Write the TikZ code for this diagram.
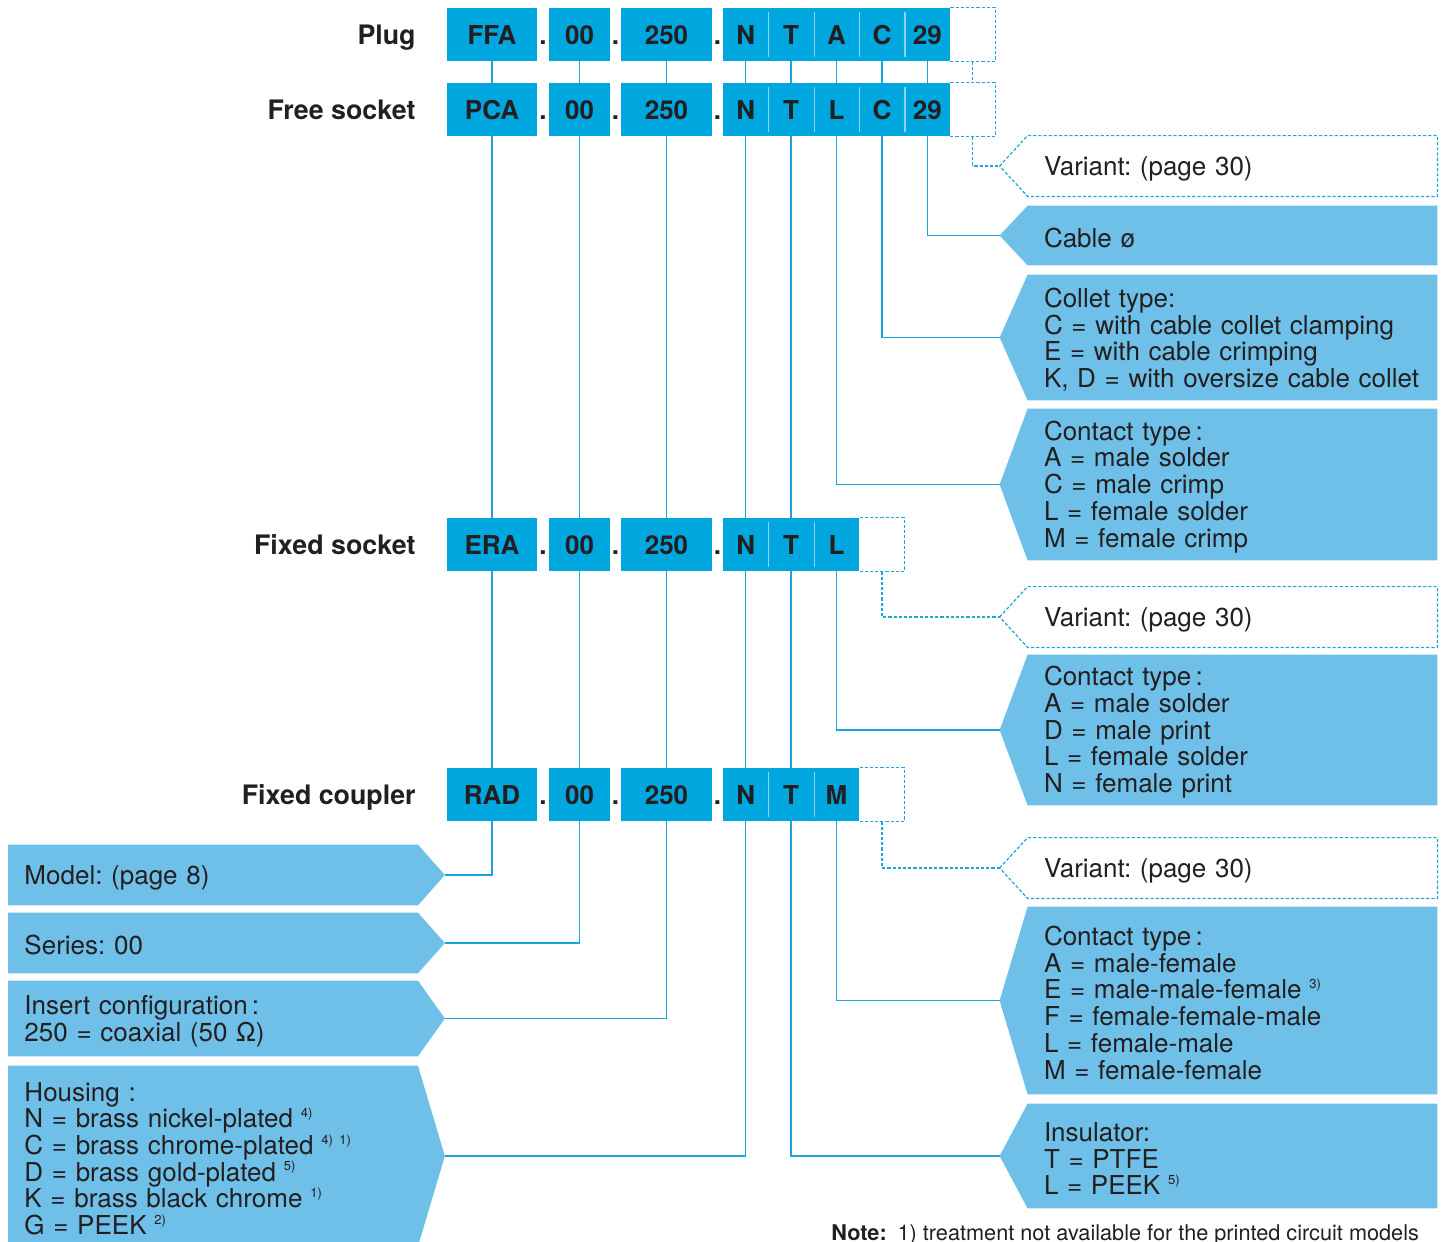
\documentclass[tikz,border=0pt]{standalone}
\usepackage{fontspec}
\setmainfont{TeX Gyre Heros}
\usetikzlibrary{positioning,backgrounds}

\definecolor{codeblue}{RGB}{0,166,222}
\definecolor{softblue}{RGB}{110,192,232}
\definecolor{linkblue}{RGB}{28,164,222}
\definecolor{splitblue}{RGB}{140,212,242}
\definecolor{ink}{RGB}{35,31,32}

\newcommand{\notemark}[1]{\hspace{0.3em}\raisebox{0.75ex}{\fontsize{6.5}{7}\selectfont #1}}

\tikzset{
  code/.style={fill=codeblue, text=ink, font=\fontsize{13}{13}\selectfont\bfseries,
    inner sep=0pt, minimum height=26.5pt, text height=10.4pt, text depth=0pt},
  cell/.style={code, minimum width=22.7pt},
  blank/.style={inner sep=0pt, minimum height=26.5pt, minimum width=22pt},
  dot/.style={text=ink, font=\fontsize{13}{13}\selectfont\bfseries,
    inner sep=0pt, text height=10.4pt, text depth=0pt},
  rowlabel/.style={anchor=east, text=ink, font=\fontsize{13.4}{14}\selectfont\bfseries,
    inner sep=0pt, text height=10.4pt, text depth=0pt},
  infobox/.style={text=ink, font=\fontsize{13}{13.35}\selectfont, align=left,
    text width=188.5pt, inner xsep=8pt, inner ysep=0pt,
    execute at begin node={\rule{0pt}{12pt}}},
  link/.style={draw=linkblue, line width=0.7pt},
  dashlink/.style={draw=linkblue, line width=0.6pt, dash pattern=on 1.6pt off 1pt},
  divider/.style={draw=splitblue, line width=0.6pt}
}

\begin{document}
\frenchspacing
\begin{tikzpicture}[x=0.5pt,y=-0.5pt,node distance=22.7pt,on grid]
\useasboundingbox (0,0) rectangle (1446,1242);

% row labels
\node[rowlabel] (plug_lbl) at (416,34.5) {Plug};
\node[rowlabel] (free_lbl) at (416,109.5) {Free socket};
\node[rowlabel] (sock_lbl) at (416,544.5) {Fixed socket};
\node[rowlabel] (coup_lbl) at (416,794.5) {Fixed coupler};

% plug
\node[code, minimum width=45pt] (plug_model) at (492,34.5) {FFA};
\node[dot] (plug_d1) at (543,34.5) {.};
\node[code, minimum width=30.5pt] (plug_series) at (579.5,34.5) {00};
\node[dot] (plug_d2) at (615.5,34.5) {.};
\node[code, minimum width=45.5pt] (plug_insert) at (666.5,34.5) {250};
\node[dot] (plug_d3) at (717.5,34.5) {.};
\node[cell] (plug_N) at (745.7,34.5) {N};
\node[cell] (plug_T) [right=of plug_N] {T};
\node[cell] (plug_A) [right=of plug_T] {A};
\node[cell] (plug_C) [right=of plug_A] {C};
\node[cell] (plug_29) [right=of plug_C] {29};
\node[blank] (plug_var) [right=of plug_29] {};

% free socket
\node[code, minimum width=45pt] (free_model) at (492,109.5) {PCA};
\node[dot] (free_d1) at (543,109.5) {.};
\node[code, minimum width=30.5pt] (free_series) at (579.5,109.5) {00};
\node[dot] (free_d2) at (615.5,109.5) {.};
\node[code, minimum width=45.5pt] (free_insert) at (666.5,109.5) {250};
\node[dot] (free_d3) at (717.5,109.5) {.};
\node[cell] (free_N) at (745.7,109.5) {N};
\node[cell] (free_T) [right=of free_N] {T};
\node[cell] (free_L) [right=of free_T] {L};
\node[cell] (free_C) [right=of free_L] {C};
\node[cell] (free_29) [right=of free_C] {29};
\node[blank] (free_var) [right=of free_29] {};

% fixed socket
\node[code, minimum width=45pt] (sock_model) at (492,544.5) {ERA};
\node[dot] (sock_d1) at (543,544.5) {.};
\node[code, minimum width=30.5pt] (sock_series) at (579.5,544.5) {00};
\node[dot] (sock_d2) at (615.5,544.5) {.};
\node[code, minimum width=45.5pt] (sock_insert) at (666.5,544.5) {250};
\node[dot] (sock_d3) at (717.5,544.5) {.};
\node[cell] (sock_N) at (745.7,544.5) {N};
\node[cell] (sock_T) [right=of sock_N] {T};
\node[cell] (sock_L) [right=of sock_T] {L};
\node[blank] (sock_var) [right=of sock_L] {};

% fixed coupler
\node[code, minimum width=45pt] (coup_model) at (492,794.5) {RAD};
\node[dot] (coup_d1) at (543,794.5) {.};
\node[code, minimum width=30.5pt] (coup_series) at (579.5,794.5) {00};
\node[dot] (coup_d2) at (615.5,794.5) {.};
\node[code, minimum width=45.5pt] (coup_insert) at (666.5,794.5) {250};
\node[dot] (coup_d3) at (717.5,794.5) {.};
\node[cell] (coup_N) at (745.7,794.5) {N};
\node[cell] (coup_T) [right=of coup_N] {T};
\node[cell] (coup_M) [right=of coup_T] {M};
\node[blank] (coup_var) [right=of coup_M] {};

% splits between letters
\draw[divider] ([yshift=-2pt]plug_N.north east) -- ([yshift=2pt]plug_N.south east);
\draw[divider] ([yshift=-2pt]plug_T.north east) -- ([yshift=2pt]plug_T.south east);
\draw[divider] ([yshift=-2pt]plug_A.north east) -- ([yshift=2pt]plug_A.south east);
\draw[divider] ([yshift=-2pt]plug_C.north east) -- ([yshift=2pt]plug_C.south east);
\draw[divider] ([yshift=-2pt]free_N.north east) -- ([yshift=2pt]free_N.south east);
\draw[divider] ([yshift=-2pt]free_T.north east) -- ([yshift=2pt]free_T.south east);
\draw[divider] ([yshift=-2pt]free_L.north east) -- ([yshift=2pt]free_L.south east);
\draw[divider] ([yshift=-2pt]free_C.north east) -- ([yshift=2pt]free_C.south east);
\draw[divider] ([yshift=-2pt]sock_N.north east) -- ([yshift=2pt]sock_N.south east);
\draw[divider] ([yshift=-2pt]sock_T.north east) -- ([yshift=2pt]sock_T.south east);
\draw[divider] ([yshift=-2pt]coup_N.north east) -- ([yshift=2pt]coup_N.south east);
\draw[divider] ([yshift=-2pt]coup_T.north east) -- ([yshift=2pt]coup_T.south east);

% open variant cells
\draw[dashlink] (plug_var.north west) -- (plug_var.north east) -- (plug_var.south east) -- (plug_var.south west);
\draw[dashlink] (free_var.north west) -- (free_var.north east) -- (free_var.south east) -- (free_var.south west);
\draw[dashlink] (sock_var.north west) -- (sock_var.north east) -- (sock_var.south east) -- (sock_var.south west);
\draw[dashlink] (coup_var.north west) -- (coup_var.north east) -- (coup_var.south east) -- (coup_var.south west);

% right boxes
\node[infobox, minimum height=30pt] (variant_free) at (1232.5,166) {Variant: (page 30)};
\node[infobox, minimum height=29.5pt] (cable) at (1232.5,235.5) {Cable ø};
\node[infobox, minimum height=62.5pt] (collet) at (1232.5,337.5)
  {Collet type:\\C = with cable collet clamping\\E = with cable crimping\\K, D = with oversize cable collet};
\node[infobox, minimum height=75.5pt] (contact_free) at (1232.5,484.5)
  {Contact type\,:\\A = male solder\\C = male crimp\\L = female solder\\M = female crimp};
\node[infobox, minimum height=30pt] (variant_sock) at (1232.5,617) {Variant: (page 30)};
\node[infobox, minimum height=75pt] (contact_sock) at (1232.5,730)
  {Contact type\,:\\A = male solder\\D = male print\\L = female solder\\N = female print};
\node[infobox, minimum height=30pt] (variant_coup) at (1232.5,868) {Variant: (page 30)};
\node[infobox, minimum height=93.5pt] (contact_coup) at (1232.5,1000.5)
  {Contact type\,:\\A = male-female\\E = male-male-female\notemark{3)}\\F = female-female-male\\L = female-male\\M = female-female};
\node[infobox, minimum height=52pt] (insulator) at (1232.5,1156)
  {Insulator:\\T = PTFE\\L = PEEK\notemark{5)}};

% left boxes
\node[infobox, minimum height=30pt] (model) at (213,875) {Model: (page 8)};
\node[infobox, minimum height=30pt] (series) at (213,943) {Series: 00};
\node[infobox, minimum height=37.5pt] (insert) at (213,1018.5)
  {Insert configuration\,:\\250 = coaxial (50 Ω)};
\node[infobox, minimum height=90pt] (housing) at (213,1156)
  {Housing :\\N = brass nickel-plated\notemark{4)}\\C = brass chrome-plated\notemark{4)\enspace1)}\\D = brass gold-plated\notemark{5)}\\K = brass black chrome\notemark{1)}\\G = PEEK\notemark{2)}};

\node[anchor=base west, inner sep=0pt, text=ink, font=\fontsize{10.85}{11}\selectfont] (note) at (831,1240)
  {\textbf{Note:}\enspace 1) treatment not available for the printed circuit models};

% tips
\coordinate (variant_free tip) at ([xshift=-14pt]variant_free.west);
\coordinate (cable tip) at ([xshift=-14pt]cable.west);
\coordinate (collet tip) at ([xshift=-14pt]collet.west);
\coordinate (contact_free tip) at ([xshift=-14pt]contact_free.west);
\coordinate (variant_sock tip) at ([xshift=-14pt]variant_sock.west);
\coordinate (contact_sock tip) at ([xshift=-14pt]contact_sock.west);
\coordinate (variant_coup tip) at ([xshift=-14pt]variant_coup.west);
\coordinate (contact_coup tip) at ([xshift=-14pt]contact_coup.west);
\coordinate (insulator tip) at ([xshift=-14pt]insulator.west);
\coordinate (model tip) at ([xshift=13.5pt]model.east);
\coordinate (series tip) at ([xshift=13.5pt]series.east);
\coordinate (insert tip) at ([xshift=13.5pt]insert.east);
\coordinate (housing tip) at ([xshift=13.5pt]housing.east);

% dashed variant boxes
\draw[dashlink] (variant_free tip) -- (variant_free.north west) -- (variant_free.north east) -- (variant_free.south east) -- (variant_free.south west) -- cycle;
\draw[dashlink] (variant_sock tip) -- (variant_sock.north west) -- (variant_sock.north east) -- (variant_sock.south east) -- (variant_sock.south west) -- cycle;
\draw[dashlink] (variant_coup tip) -- (variant_coup.north west) -- (variant_coup.north east) -- (variant_coup.south east) -- (variant_coup.south west) -- cycle;

\begin{scope}[on background layer]
% filled boxes
\fill[softblue] (cable tip) -- (cable.north west) -- (cable.north east) -- (cable.south east) -- (cable.south west) -- cycle;
\fill[softblue] (collet tip) -- (collet.north west) -- (collet.north east) -- (collet.south east) -- (collet.south west) -- cycle;
\fill[softblue] (contact_free tip) -- (contact_free.north west) -- (contact_free.north east) -- (contact_free.south east) -- (contact_free.south west) -- cycle;
\fill[softblue] (contact_sock tip) -- (contact_sock.north west) -- (contact_sock.north east) -- (contact_sock.south east) -- (contact_sock.south west) -- cycle;
\fill[softblue] (contact_coup tip) -- (contact_coup.north west) -- (contact_coup.north east) -- (contact_coup.south east) -- (contact_coup.south west) -- cycle;
\fill[softblue] (insulator tip) -- (insulator.north west) -- (insulator.north east) -- (insulator.south east) -- (insulator.south west) -- cycle;
\fill[softblue] (model tip) -- (model.north east) -- (model.north west) -- (model.south west) -- (model.south east) -- cycle;
\fill[softblue] (series tip) -- (series.north east) -- (series.north west) -- (series.south west) -- (series.south east) -- cycle;
\fill[softblue] (insert tip) -- (insert.north east) -- (insert.north west) -- (insert.south west) -- (insert.south east) -- cycle;
\fill[softblue] (housing tip) -- (housing.north east) -- (housing.north west) -- (housing.south west) -- (housing.south east) -- cycle;

% connectors
\draw[link] (plug_model) |- (model tip);
\draw[link] (plug_series) |- (series tip);
\draw[link] (plug_insert) |- (insert tip);
\draw[link] (plug_N) |- (housing tip);
\draw[link] (plug_T) |- (insulator tip);
\draw[link] (plug_A) -- (free_L);
\draw[link] (free_L) |- (contact_free tip);
\draw[link] (plug_C) |- (collet tip);
\draw[link] (plug_29) |- (cable tip);
\draw[link] (sock_L) |- (contact_sock tip);
\draw[link] (coup_M) |- (contact_coup tip);
\draw[dashlink] (plug_var.south) -- (free_var.north);
\draw[dashlink] (free_var.south) |- (variant_free tip);
\draw[dashlink] (sock_var.south) |- (variant_sock tip);
\draw[dashlink] (coup_var.south) |- (variant_coup tip);
\end{scope}
\end{tikzpicture}
\end{document}
